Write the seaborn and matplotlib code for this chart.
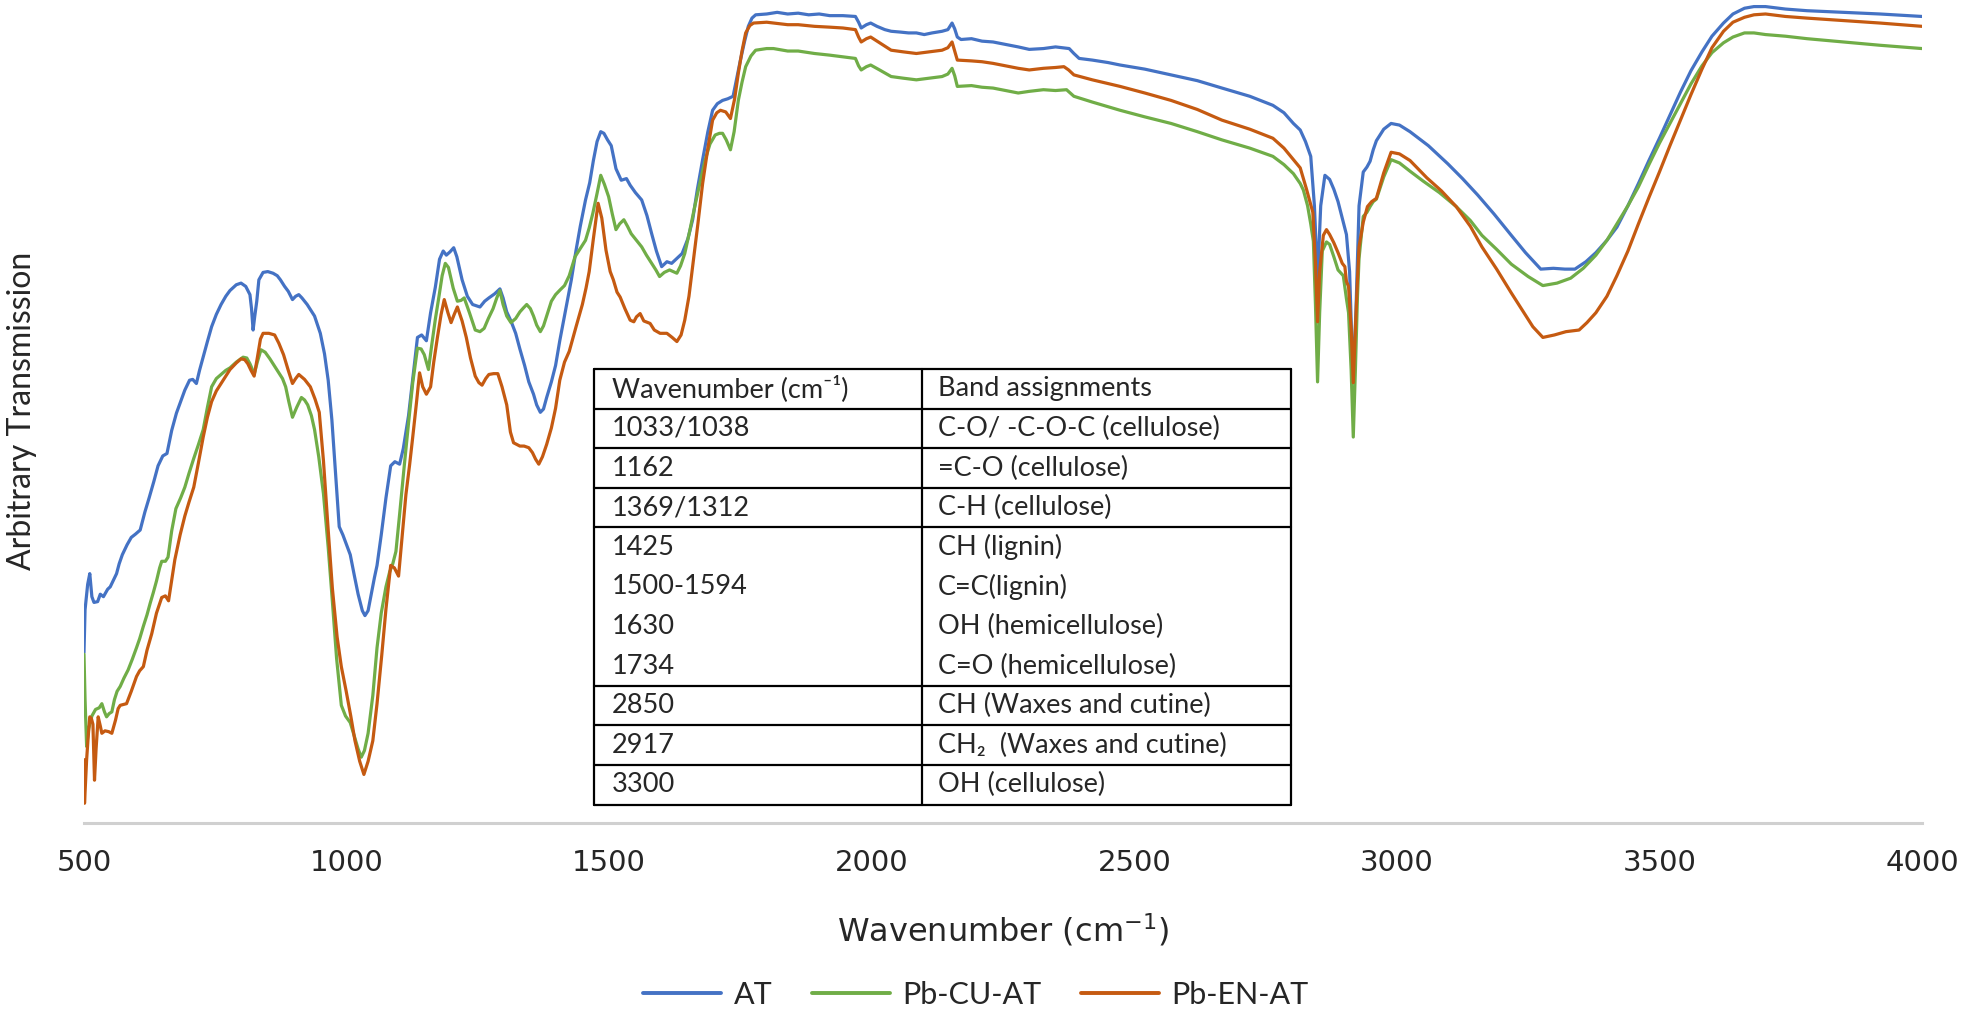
import pandas as pd
import seaborn as sns
import matplotlib.pyplot as plt
from matplotlib.lines import Line2D

# FTIR spectra: wavenumber (cm-1) / transmission (arbitrary, 0-100)
at_wn = [500, 502, 507, 511, 515, 519, 526, 531, 537, 545, 550, 556, 562, 567, 573, 582, 590, 598, 607, 616,
         624, 633, 641, 650, 658, 667, 676, 684, 692, 701, 707, 714, 720, 726, 735, 743, 752, 761, 770, 778,
         790, 799, 808, 816, 819, 822, 825, 829, 833, 841, 850, 860, 868, 874, 882, 889, 897, 903, 909, 915,
         925, 939, 950, 958, 965, 972, 979, 986, 993, 1000, 1007, 1015, 1022, 1030, 1035, 1041, 1047, 1053,
         1058, 1066, 1075, 1084, 1092, 1101, 1108, 1118, 1126, 1135, 1143, 1152, 1160, 1169, 1177, 1184, 1190,
         1197, 1204, 1210, 1220, 1230, 1240, 1254, 1263, 1271, 1282, 1292, 1298, 1305, 1313, 1322, 1330, 1339,
         1347, 1356, 1362, 1369, 1375, 1381, 1390, 1398, 1406, 1415, 1428, 1437, 1445, 1455, 1463, 1470, 1477,
         1484, 1490, 1497, 1504, 1513, 1523, 1533, 1540, 1550, 1562, 1572, 1581, 1590, 1600, 1610, 1619, 1629,
         1639, 1650, 1659, 1668, 1678, 1688, 1697, 1706, 1716, 1726, 1736, 1743, 1750, 1758, 1765, 1772, 1779,
         1800, 1820, 1840, 1860, 1880, 1900, 1920, 1945, 1969, 1975, 1980, 1990, 1998, 2010, 2025, 2037, 2055,
         2070, 2085, 2100, 2115, 2134, 2145, 2153, 2158, 2163, 2170, 2190, 2210, 2231, 2255, 2279, 2300, 2327,
         2350, 2376, 2385, 2395, 2420, 2450, 2473, 2520, 2570, 2620, 2667, 2720, 2764, 2785, 2803, 2816, 2826,
         2836, 2843, 2849, 2855, 2863, 2872, 2880, 2888, 2896, 2904, 2910, 2915, 2918, 2922, 2928, 2936, 2943,
         2949, 2955, 2961, 2975, 2989, 3005, 3025, 3060, 3097, 3125, 3154, 3185, 3218, 3245, 3274, 3298, 3320,
         3339, 3360, 3379, 3400, 3419, 3440, 3460, 3480, 3500, 3520, 3540, 3560, 3581, 3600, 3622, 3640, 3662,
         3680, 3702, 3740, 3781, 3850, 3920, 4000]
at_t = [20.7, 25.9, 29.0, 30.3, 27.5, 26.8, 26.9, 27.8, 27.5, 28.4, 28.7, 29.5, 30.3, 31.5, 32.6, 33.8, 34.7,
        35.1, 35.6, 37.8, 39.5, 41.5, 43.4, 44.6, 44.9, 47.7, 49.8, 51.2, 52.6, 53.8, 53.9, 53.4, 55.0, 56.4,
        58.5, 60.3, 61.8, 63.0, 64.0, 64.7, 65.4, 65.6, 65.2, 64.2, 62.5, 59.9, 61.5, 63.4, 66.0, 66.9, 67.0,
        66.8, 66.5, 66.0, 65.2, 64.6, 63.6, 64.0, 64.2, 63.8, 63.0, 61.6, 59.5, 57.0, 53.8, 49.0, 42.5, 36.0,
        35.0, 33.8, 32.6, 30.0, 27.8, 25.8, 25.2, 25.8, 27.8, 29.8, 31.3, 35.0, 39.5, 43.4, 43.9, 43.6, 45.5,
        49.5, 54.0, 59.0, 59.3, 58.6, 62.0, 65.1, 68.5, 69.5, 69.0, 69.4, 69.9, 68.8, 66.0, 64.0, 63.0, 62.7,
        63.4, 63.8, 64.3, 64.9, 63.8, 62.1, 61.0, 59.5, 57.6, 55.6, 53.6, 52.1, 50.8, 49.9, 50.3, 51.7, 53.6,
        55.6, 58.6, 61.6, 66.0, 69.6, 72.5, 75.7, 77.8, 80.5, 82.8, 84.0, 83.8, 83.0, 82.3, 79.5, 78.1, 78.3,
        77.5, 76.6, 75.7, 73.8, 71.6, 69.5, 67.6, 68.2, 68.0, 68.6, 69.2, 71.0, 73.3, 77.0, 80.6, 84.0, 86.6,
        87.4, 87.8, 88.0, 88.3, 90.5, 92.7, 95.0, 96.8, 97.8, 98.2, 98.3, 98.5, 98.3, 98.4, 98.2, 98.3, 98.1,
        98.1, 98.0, 97.3, 96.6, 97.0, 97.2, 96.8, 96.4, 96.2, 96.1, 96.0, 96.0, 95.8, 96.0, 96.2, 96.4, 97.2,
        96.5, 95.5, 95.2, 95.3, 95.0, 94.9, 94.6, 94.3, 94.0, 94.1, 94.3, 94.1, 93.5, 92.9, 92.7, 92.4, 92.1,
        91.6, 90.9, 90.2, 89.3, 88.3, 87.2, 86.3, 85.0, 84.2, 82.8, 81.0, 75.0, 66.0, 75.0, 78.7, 78.2, 77.0,
        75.5, 73.5, 71.5, 67.0, 57.0, 55.5, 62.0, 75.0, 79.1, 79.7, 80.4, 81.8, 82.9, 84.3, 85.0, 84.8, 84.0,
        82.3, 80.1, 78.3, 76.3, 74.0, 71.4, 69.3, 67.3, 67.4, 67.3, 67.3, 68.2, 69.3, 70.8, 72.4, 75.0, 77.7,
        80.5, 83.2, 86.0, 88.8, 91.4, 93.7, 95.6, 97.2, 98.3, 99.0, 99.2, 99.2, 98.9, 98.7, 98.5, 98.3, 98.0]

cu_wn = [500, 502, 505, 509, 515, 522, 529, 534, 539, 543, 548, 553, 558, 563, 569, 576, 584, 592, 600, 606,
         613, 620, 626, 632, 638, 644, 648, 655, 660, 667, 675, 684, 692, 700, 709, 718, 727, 735, 743, 752,
         761, 770, 778, 790, 803, 810, 816, 820, 824, 830, 837, 845, 854, 862, 871, 878, 884, 890, 897, 905,
         914, 920, 926, 933, 939, 947, 956, 965, 973, 981, 990, 998, 1007, 1015, 1022, 1028, 1034, 1041, 1050,
         1058, 1066, 1075, 1082, 1088, 1094, 1101, 1110, 1118, 1126, 1135, 1142, 1148, 1156, 1162, 1169, 1176,
         1182, 1188, 1194, 1203, 1211, 1218, 1224, 1234, 1245, 1254, 1262, 1270, 1279, 1286, 1292, 1298, 1305,
         1313, 1322, 1330, 1337, 1343, 1350, 1356, 1362, 1369, 1375, 1381, 1390, 1398, 1407, 1415, 1424, 1435,
         1445, 1455, 1462, 1469, 1477, 1484, 1491, 1499, 1506, 1513, 1520, 1528, 1535, 1542, 1552, 1562, 1571,
         1581, 1589, 1596, 1605, 1615, 1622, 1629, 1636, 1644, 1653, 1663, 1673, 1683, 1692, 1702, 1710, 1716,
         1723, 1731, 1738, 1746, 1753, 1760, 1770, 1779, 1800, 1813, 1840, 1860, 1891, 1920, 1945, 1969, 1975,
         1980, 1990, 1998, 2015, 2037, 2060, 2085, 2110, 2134, 2145, 2153, 2158, 2163, 2190, 2210, 2231, 2255,
         2279, 2300, 2327, 2350, 2371, 2378, 2385, 2420, 2473, 2520, 2570, 2620, 2667, 2720, 2764, 2785, 2803,
         2816, 2822, 2830, 2836, 2841, 2845, 2849, 2853, 2858, 2866, 2872, 2880, 2888, 2898, 2904, 2908, 2913,
         2917, 2921, 2925, 2928, 2936, 2943, 2949, 2955, 2961, 2975, 2989, 3005, 3025, 3050, 3081, 3113, 3140,
         3162, 3190, 3218, 3250, 3278, 3305, 3331, 3355, 3379, 3400, 3419, 3440, 3460, 3480, 3500, 3520, 3540,
         3560, 3581, 3600, 3622, 3640, 3662, 3680, 3702, 3740, 3781, 3850, 3920, 4000]
cu_t = [20.5, 15.0, 9.3, 11.5, 13.0, 13.8, 14.0, 14.5, 13.5, 12.9, 13.3, 13.5, 15.0, 16.0, 16.6, 17.6, 18.6,
        19.9, 21.3, 22.4, 23.9, 25.3, 26.7, 28.0, 29.4, 31.0, 31.8, 31.8, 32.3, 35.5, 38.2, 39.5, 40.8, 42.5,
        44.3, 46.0, 47.8, 50.5, 53.0, 54.0, 54.5, 55.0, 55.3, 56.0, 56.6, 56.5, 55.8, 55.2, 54.5, 56.0, 57.5,
        57.2, 56.4, 55.6, 54.7, 54.0, 53.0, 51.2, 49.3, 50.5, 51.7, 51.4, 50.8, 49.5, 47.8, 44.5, 40.0, 33.5,
        26.9, 20.0, 14.3, 13.0, 12.2, 10.5, 9.0, 8.0, 8.8, 10.9, 15.5, 21.3, 25.5, 28.7, 30.5, 31.5, 33.0, 37.5,
        43.5, 48.6, 53.5, 57.7, 57.6, 56.9, 55.1, 58.0, 61.2, 64.0, 66.5, 68.0, 67.5, 65.0, 63.4, 63.5, 63.8,
        62.0, 59.9, 59.7, 60.1, 61.3, 62.5, 63.8, 64.7, 63.0, 61.6, 60.8, 61.3, 62.1, 62.6, 63.0, 62.5, 61.6,
        60.5, 59.7, 60.4, 61.6, 63.4, 64.2, 64.8, 65.3, 66.5, 68.8, 69.8, 70.8, 72.3, 74.1, 76.5, 78.7, 77.6,
        76.1, 74.0, 72.1, 72.8, 73.3, 72.5, 71.6, 70.8, 70.0, 69.0, 68.0, 67.2, 66.4, 66.9, 67.2, 67.0, 66.8,
        67.7, 69.2, 71.8, 74.9, 77.8, 80.6, 82.5, 83.6, 83.8, 83.8, 83.0, 81.8, 84.0, 87.8, 90.0, 91.9, 93.2,
        93.9, 94.1, 94.1, 93.8, 93.8, 93.5, 93.3, 93.1, 92.9, 92.0, 91.5, 91.9, 92.1, 91.5, 90.7, 90.5, 90.3,
        90.5, 90.7, 91.0, 91.7, 90.8, 89.5, 89.6, 89.4, 89.3, 89.0, 88.7, 88.9, 89.1, 89.0, 89.1, 88.7, 88.3,
        87.6, 86.6, 85.8, 85.0, 84.0, 83.0, 82.0, 81.0, 80.0, 78.9, 77.7, 76.9, 75.0, 72.8, 70.7, 63.0, 53.6,
        62.0, 69.5, 70.6, 70.3, 68.8, 67.2, 66.5, 63.7, 62.0, 55.0, 46.9, 55.0, 64.0, 68.6, 73.7, 74.2, 74.9,
        75.5, 75.8, 78.5, 80.6, 80.2, 79.2, 78.0, 76.6, 74.9, 73.2, 71.4, 69.7, 67.9, 66.4, 65.3, 65.6, 66.2,
        67.4, 69.0, 70.8, 72.8, 75.0, 77.3, 80.0, 82.6, 85.0, 87.4, 89.8, 92.0, 93.6, 94.8, 95.5, 96.0, 96.0,
        95.8, 95.6, 95.3, 94.9, 94.5, 94.1]

en_wn = [500, 501, 503, 505, 508, 511, 514, 517, 520, 523, 527, 531, 534, 540, 547, 553, 560, 565, 569, 575,
         581, 590, 600, 606, 613, 620, 629, 638, 648, 655, 661, 667, 673, 683, 692, 700, 709, 718, 727, 735,
         743, 752, 761, 770, 778, 790, 799, 806, 812, 818, 824, 830, 836, 841, 852, 863, 871, 880, 889, 897,
         903, 909, 920, 931, 940, 948, 956, 965, 973, 982, 990, 999, 1008, 1016, 1025, 1033, 1041, 1050, 1058,
         1067, 1075, 1084, 1091, 1099, 1106, 1113, 1120, 1126, 1133, 1139, 1145, 1152, 1160, 1166, 1173, 1180,
         1186, 1193, 1199, 1205, 1211, 1220, 1228, 1236, 1245, 1252, 1258, 1265, 1271, 1280, 1288, 1296, 1305,
         1312, 1318, 1324, 1330, 1338, 1347, 1354, 1360, 1366, 1373, 1381, 1390, 1398, 1406, 1415, 1424, 1437,
         1449, 1456, 1462, 1470, 1479, 1486, 1494, 1502, 1508, 1515, 1521, 1530, 1540, 1547, 1552, 1559, 1566,
         1578, 1586, 1597, 1610, 1620, 1629, 1637, 1644, 1652, 1659, 1669, 1678, 1688, 1697, 1705, 1712, 1722,
         1731, 1739, 1746, 1753, 1760, 1768, 1775, 1800, 1813, 1840, 1860, 1891, 1920, 1945, 1969, 1975, 1980,
         1990, 1998, 2015, 2037, 2060, 2085, 2110, 2134, 2145, 2153, 2158, 2163, 2190, 2210, 2231, 2255, 2279,
         2300, 2327, 2350, 2366, 2375, 2385, 2420, 2473, 2520, 2570, 2620, 2667, 2720, 2764, 2785, 2803, 2816,
         2828, 2840, 2845, 2849, 2853, 2860, 2866, 2872, 2880, 2888, 2896, 2901, 2904, 2908, 2913, 2917, 2921,
         2925, 2928, 2936, 2944, 2952, 2961, 2975, 2989, 3005, 3025, 3057, 3085, 3113, 3140, 3162, 3190, 3218,
         3240, 3259, 3278, 3300, 3322, 3347, 3362, 3379, 3400, 3419, 3440, 3460, 3480, 3500, 3520, 3540, 3560,
         3581, 3600, 3622, 3640, 3662, 3680, 3702, 3740, 3781, 3850, 3920, 4000]
en_t = [7.7, 2.4, 5.0, 7.7, 10.5, 12.9, 12.7, 12.0, 5.2, 9.0, 12.9, 11.8, 10.9, 11.2, 11.1, 10.9, 12.5, 13.9,
        14.3, 14.4, 14.5, 16.0, 17.8, 18.5, 19.0, 21.0, 23.0, 25.5, 27.4, 27.6, 27.0, 29.5, 32.0, 35.0, 37.3,
        39.0, 40.8, 43.8, 46.9, 49.3, 51.2, 52.5, 53.4, 54.3, 55.1, 55.9, 56.4, 56.3, 55.8, 55.0, 54.3, 56.5,
        58.8, 59.5, 59.5, 59.3, 58.3, 56.9, 55.0, 53.4, 54.0, 54.5, 53.9, 53.0, 51.5, 49.9, 44.0, 35.6, 28.5,
        22.6, 19.0, 16.1, 13.0, 10.0, 7.5, 5.9, 7.5, 10.0, 14.5, 20.4, 26.0, 31.3, 31.0, 30.0, 35.0, 39.9, 43.5,
        46.9, 51.0, 54.7, 53.0, 52.1, 53.0, 56.0, 59.0, 61.8, 63.6, 62.0, 60.8, 61.8, 62.7, 61.0, 59.0, 56.5,
        54.3, 53.5, 53.2, 54.0, 54.5, 54.6, 54.6, 53.0, 50.8, 47.5, 46.2, 46.0, 45.8, 45.8, 45.6, 45.0, 44.2,
        43.6, 44.5, 46.0, 48.0, 50.4, 53.8, 56.0, 57.3, 60.3, 63.0, 65.0, 67.0, 71.0, 75.3, 73.5, 69.6, 67.0,
        66.0, 64.5, 63.9, 62.5, 61.1, 60.9, 61.5, 61.9, 61.0, 60.7, 59.9, 59.5, 59.5, 59.0, 58.5, 59.3, 61.1,
        64.0, 67.6, 72.8, 77.7, 82.0, 85.4, 86.3, 86.6, 86.4, 85.6, 88.0, 91.1, 93.8, 96.0, 96.9, 97.2, 97.3,
        97.2, 97.0, 97.0, 96.8, 96.7, 96.6, 96.4, 95.5, 94.9, 95.3, 95.5, 94.8, 93.9, 93.7, 93.5, 93.7, 93.9,
        94.2, 94.9, 93.8, 92.7, 92.6, 92.5, 92.3, 92.0, 91.7, 91.5, 91.7, 91.8, 91.9, 91.5, 90.9, 90.3, 89.5,
        88.7, 87.8, 86.7, 85.4, 84.3, 83.2, 82.0, 80.6, 79.6, 77.0, 74.2, 68.0, 60.9, 67.0, 71.4, 72.1, 71.5,
        70.5, 69.3, 68.0, 67.6, 65.8, 65.2, 60.0, 53.5, 60.0, 66.0, 70.0, 73.0, 74.9, 75.5, 75.9, 79.0, 81.5,
        81.3, 80.5, 78.4, 76.8, 74.9, 72.5, 70.0, 67.3, 64.4, 62.2, 60.3, 59.0, 59.3, 59.7, 59.9, 60.8, 62.0,
        64.0, 66.5, 69.5, 72.8, 76.0, 79.1, 82.3, 85.4, 88.5, 91.6, 94.2, 96.2, 97.3, 97.9, 98.2, 98.3, 98.0,
        97.8, 97.5, 97.2, 96.8]

series_names = ["AT", "Pb-CU-AT", "Pb-EN-AT"]
series_colors = ["#4472C4", "#70AD47", "#C55A11"]
x_ticks = [500, 1000, 1500, 2000, 2500, 3000, 3500, 4000]

# band assignment table (inset)
band_wn = ["1033/1038", "1162", "1369/1312", "1425", "1500-1594", "1630", "1734", "2850", "2917", "3300"]
band_label = ["C-O/ -C-O-C (cellulose)", "=C-O (cellulose)", "C-H (cellulose)", "CH (lignin)",
              "C=C(lignin)", "OH (hemicellulose)", "C=O (hemicellulose)", "CH (Waxes and cutine)",
              "CH\u2082  (Waxes and cutine)", "OH (cellulose)"]
# rows that get a line below them (group 1425-1734 shares one cell)
band_rule = [True, True, True, False, False, False, True, True, True, True]

frames = []
for name, wn, t in zip(series_names, [at_wn, cu_wn, en_wn], [at_t, cu_t, en_t]):
    frames.append(pd.DataFrame({"wn": wn, "t": t, "sample": name}))
df = pd.concat(frames, ignore_index=True)

W, H = 1963, 1016
sns.set_style("white")
plt.rcParams['font.family'] = ['Lato', 'DejaVu Sans']

fig = plt.figure(figsize=(W / 100, H / 100), dpi=100)
ax = fig.add_axes([84 / W, 1 - 823 / H, 1838 / W, 823 / H])

sns.lineplot(data=df, x="wn", y="t", hue="sample", hue_order=series_names,
             palette=dict(zip(series_names, series_colors)), estimator=None,
             linewidth=2.3, ax=ax, legend=False)

ax.set_xlim(500, 4000)
ax.set_ylim(0, 100)
ax.set_xticks(x_ticks)
ax.set_xticklabels([str(v) for v in x_ticks], family='DejaVu Sans', fontsize=21, color='#262626')
ax.set_yticks([])
ax.tick_params(axis='x', length=0, pad=19)
ax.set_xlabel("")
ax.set_ylabel("")
for s in ['top', 'right', 'left']:
    ax.spines[s].set_visible(False)
ax.spines['bottom'].set_color('#d0d0d0')
ax.spines['bottom'].set_linewidth(2.2)
ax.patch.set_alpha(0)

fig.text(1003 / W, 1 - 930 / H, "Wavenumber (cm$^{-1}$)", family='DejaVu Sans', fontsize=23,
         ha='center', va='center', color='#262626')
fig.text(22 / W, 1 - 411 / H, "Arbitrary Transmission", fontsize=23, rotation=90,
         ha='center', va='center', color='#262626')

handles = [Line2D([], [], color=c, lw=2.8) for c in series_colors]
fig.legend(handles, series_names, loc='center', bbox_to_anchor=(976 / W, 21 / H), ncol=3,
           frameon=False, fontsize=22, handlelength=2.55, handletextpad=0.4, columnspacing=1.3)

# inset table, drawn in figure pixels
tx0, tx1, tdiv = 594, 1291, 922
ty0, row_h = 369, 39.6


def fxp(px):
    return px / W


def fyp(py):
    return 1 - py / H


lw_tab = 1.6
ty_end = ty0 + row_h * (len(band_wn) + 1)
for x in [tx0, tdiv, tx1]:
    fig.add_artist(Line2D([fxp(x), fxp(x)], [fyp(ty0), fyp(ty_end)], color='black', lw=lw_tab))
fig.add_artist(Line2D([fxp(tx0), fxp(tx1)], [fyp(ty0), fyp(ty0)], color='black', lw=lw_tab))
fig.add_artist(Line2D([fxp(tx0), fxp(tx1)], [fyp(ty0 + row_h), fyp(ty0 + row_h)], color='black', lw=lw_tab))

fig.text(fxp(612), fyp(ty0 + row_h / 2), "Wavenumber (cm\u207b\u00b9)", fontsize=19.5, ha='left', va='center')
fig.text(fxp(938), fyp(ty0 + row_h / 2), "Band assignments", fontsize=19.5, ha='left', va='center')
for i, (wn_txt, lab, rule) in enumerate(zip(band_wn, band_label, band_rule)):
    yc = ty0 + row_h * (i + 1.5)
    fig.text(fxp(612), fyp(yc), wn_txt, fontsize=19.5, ha='left', va='center')
    fig.text(fxp(938), fyp(yc), lab, fontsize=19.5, ha='left', va='center')
    if rule:
        yb = ty0 + row_h * (i + 2)
        fig.add_artist(Line2D([fxp(tx0), fxp(tx1)], [fyp(yb), fyp(yb)], color='black', lw=lw_tab))

fig.savefig("out.png", dpi=100)
